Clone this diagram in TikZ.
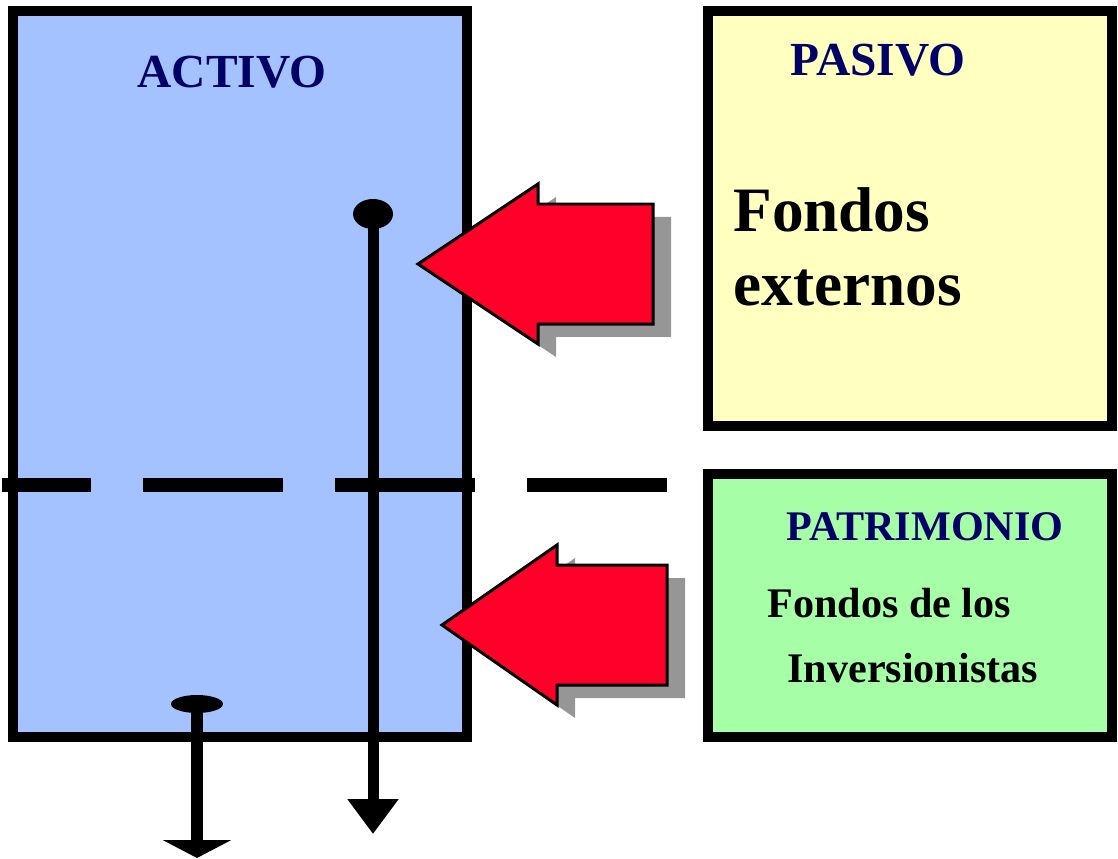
\documentclass[tikz,border=0pt]{standalone}
\usepackage{fontspec}
\setmainfont{Liberation Serif}
\usetikzlibrary{positioning,arrows.meta,shapes.geometric,shadows}
\definecolor{activoblue}{RGB}{164,194,255}
\definecolor{pasivoyellow}{RGB}{255,255,192}
\definecolor{patrigreen}{RGB}{166,255,166}
\definecolor{arrowred}{RGB}{255,0,40}
\definecolor{titlenavy}{RGB}{0,0,102}
\definecolor{shadowgray}{RGB}{150,150,150}
\tikzset{
	x=0.02cm, y=-0.02cm,
	every node/.style = {inner sep = 0},
	box/.style = {draw, line width=0.2cm, rectangle},
	title/.style = {anchor=base, text=titlenavy, font=\bfseries\fontsize{27}{32}\selectfont},
	bigtext/.style = {anchor=base west, font=\bfseries\fontsize{36}{42}\selectfont},
	smalltext/.style = {anchor=base west, font=\bfseries\fontsize{24}{29}\selectfont},
	blockarrow/.style = {fill=arrowred, draw=black, line width=0.06cm, line join=miter,
		drop shadow={shadow xshift=0.36cm, shadow yshift=-0.26cm, fill=shadowgray, opacity=1}},
	dot/.style = {ellipse, fill=black},
	downarrow/.style = {line width=0.22cm, -{Triangle[length=0.7cm, width=0.98cm]}}
}

\begin{document}
\begin{tikzpicture}
	\useasboundingbox (0,0) rectangle (1118,858);
	\clip (0,0) rectangle (1118,858);

	\node(activo)[box, fill=activoblue, minimum width=9.08cm, minimum height=14.52cm] at (240,374) {};
	\node(pasivo)[box, fill=pasivoyellow, minimum width=8.08cm, minimum height=8.3cm] at (910,218.5) {};
	\node(patrimonio)[box, fill=patrigreen, minimum width=8.08cm, minimum height=5.26cm] at (910,605.5) {};

	\coordinate(dashL) at (2,485);
	\coordinate(dashR) at (667,485);
	\draw[line width=0.28cm, dash pattern=on 2.8cm off 1.04cm, dash phase=1.02cm] (dashL) -- (dashR);

	% fondos externos / fondos propios
	\draw[blockarrow] (418,264) -- ++(120,-80) -- ++(0,20) -- ++(115,0) -- ++(0,120) -- ++(-115,0) -- ++(0,20) -- cycle;
	\draw[blockarrow] (442,625) -- ++(115,-80) -- ++(0,20) -- ++(110,0) -- ++(0,120) -- ++(-110,0) -- ++(0,20) -- cycle;

	\node(topdot)[dot, minimum width=0.8cm, minimum height=0.6cm] at (373,214) {};
	\coordinate(topend) at (373,834);
	\draw[downarrow] (topdot.center) -- (topend);

	\node(lowdot)[dot, minimum width=1.04cm, minimum height=0.36cm] at (197,704) {};
	\coordinate(lowend) at (197,858);
	\draw[line width=0.24cm, -{Triangle[length=0.36cm, width=1.36cm]}] (lowdot.center) -- (lowend);

	\node(activotitle)[title] at (232,88) {ACTIVO};
	\node(pasivotitle)[title] at (878,76) {PASIVO};
	\node(patrititle)[title, font=\bfseries\fontsize{24}{29}\selectfont] at (925,540) {PATRIMONIO};

	\node(externos1)[bigtext] at (733,232) {Fondos};
	\node(externos2)[bigtext] at (733,305) {externos};

	\node(propios1)[smalltext] at (767,617) {Fondos de los};
	\node(propios2)[smalltext] at (787,682) {Inversionistas};
\end{tikzpicture}
\end{document}
